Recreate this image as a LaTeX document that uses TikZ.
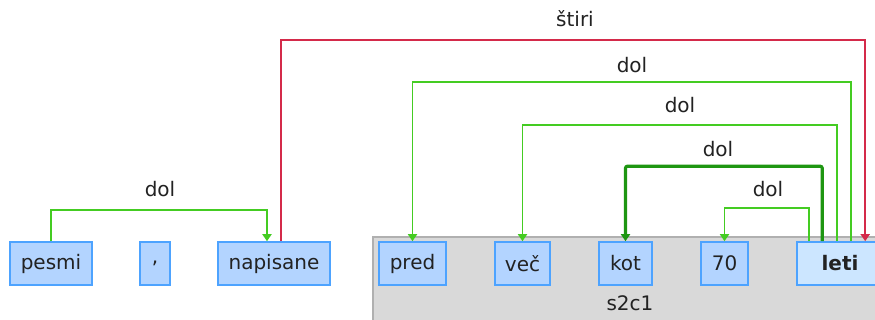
\documentclass[tikz,border=0pt]{standalone}
\usepackage{fontspec}
\setmainfont{DejaVu Sans}
\usetikzlibrary{arrows.meta,calc}
\definecolor{gfill}{HTML}{B3D4FF}
\definecolor{gdraw}{HTML}{4DA3FF}
\definecolor{hfill}{HTML}{CCE6FF}
\definecolor{lg}{HTML}{44CC22}
\definecolor{dg}{HTML}{1E9612}
\definecolor{rd}{HTML}{D42A4A}
\definecolor{txt}{HTML}{222222}
\definecolor{boxfill}{HTML}{D9D9D9}
\definecolor{boxdraw}{HTML}{B0B0B0}
\begin{document}
\begin{tikzpicture}[x=1pt,y=-1pt,
  word/.style={draw=gdraw,fill=gfill,line width=1.6pt,minimum height=43pt,inner sep=0pt,
    font=\fontsize{20}{24}\selectfont,text=txt},
  lbl/.style={font=\fontsize{20}{24}\selectfont,text=txt,inner sep=0pt},
  ge/.style={draw=lg,line width=1.8pt,-{Triangle[width=9pt,length=7pt]}},
  dge/.style={draw=dg,line width=3.2pt,rounded corners=2pt,-{Triangle[width=9pt,length=7pt]}},
  re/.style={draw=rd,line width=1.8pt,-{Triangle[width=9pt,length=7pt]}}]
\useasboundingbox (0,0) rectangle (875,320);
\fill[white] (0,0) rectangle (875,320);
\draw[draw=boxdraw,fill=boxfill,line width=1.2pt] (373,237) rectangle (890,330);
\node[lbl] (s2c1) at (630,303) {s2c1};
\node[word,minimum width=82pt] (pesmi) at (51,263.5) {pesmi};
\node[word,minimum width=30pt] (comma) at (155,263.5) {,};
\node[word,minimum width=112pt] (napisane) at (274,263.5) {napisane};
\node[word,minimum width=67pt] (pred) at (412.5,263.5) {pred};
\node[word,minimum width=55pt] (vec) at (522.5,263.5) {več};
\node[word,minimum width=53pt] (kot) at (625.5,263.5) {kot};
\node[word,minimum width=47pt] (n70) at (724.5,263.5) {70};
\node[word,fill=hfill,minimum width=86pt] (leti) at (840,263.5) {\textbf{leti}};
% edges
\draw[ge] (pesmi.north) -- ++(0,-31) -| ([xshift=-7pt]napisane.north);
\node[lbl] (l1) at (160,189) {dol};
\draw[re] ([xshift=7pt]napisane.north) -- ++(0,-201) -| ([xshift=69pt]leti.north west);
\node[lbl] (l2) at (575,19) {štiri};
\draw[ge] ([xshift=55pt]leti.north west) -- ++(0,-159) -| (pred.north);
\node[lbl] (l3) at (632,65) {dol};
\draw[ge] ([xshift=41pt]leti.north west) -- ++(0,-116) -| (vec.north);
\node[lbl] (l4) at (680,105) {dol};
\draw[dge] ([xshift=26pt]leti.north west) -- ++(0,-75) -| (kot.north);
\node[lbl] (l5) at (718,149) {dol};
\draw[ge] ([xshift=13pt]leti.north west) -- ++(0,-33) -| (n70.north);
\node[lbl] (l6) at (768,189) {dol};
\end{tikzpicture}
\end{document}
